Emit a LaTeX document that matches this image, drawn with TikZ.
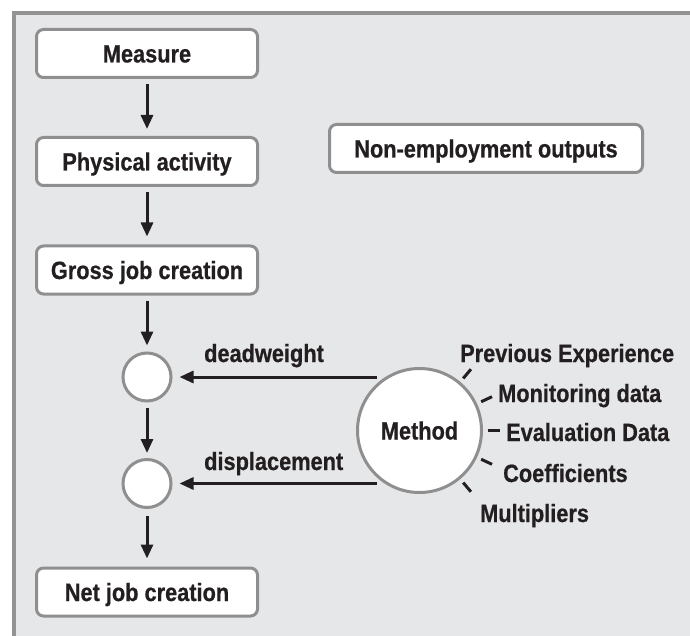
\documentclass[tikz,border=0pt]{standalone}
\usepackage{fontspec}
\setmainfont{Liberation Sans}[FakeStretch=0.87, BoldFeatures={FakeBold=0.6}]
\usetikzlibrary{arrows.meta,calc}
\definecolor{bgc}{HTML}{E6E7E9}
\definecolor{framec}{HTML}{939393}
\definecolor{boxc}{HTML}{8F8F8F}
\definecolor{inkc}{HTML}{231F20}
\begin{document}
\begin{tikzpicture}[x=1pt,y=-1pt,
 font=\fontsize{25}{30}\selectfont\bfseries, text=inkc,
 box/.style={draw=boxc, fill=white, line width=3pt, rounded corners=7pt, minimum width=221pt, minimum height=48pt, inner sep=0pt, text height=18pt, text depth=0pt},
 junc/.style={circle, draw=boxc, fill=white, line width=3pt, minimum size=48pt, inner sep=0pt},
 bigcirc/.style={circle, draw=boxc, fill=white, line width=3pt, minimum size=124pt, inner sep=0pt, text height=18pt, text depth=0pt},
 arr/.style={draw=inkc, line width=3pt, -{Triangle[length=14pt,width=12pt]}},
 tickline/.style={draw=inkc, line width=3pt},
 lbl/.style={anchor=base west, inner sep=0pt}
]
\useasboundingbox (0,0) rectangle (690,636);
\begin{scope}
\clip (0,0) rectangle (690,636);
\path[fill=bgc, draw=framec, line width=4pt] (13.5,13) rectangle (700,650);
\end{scope}

\node[box] (measure) at (147,53.5) {Measure};
\node[box] (phys) at (147,161.5) {Physical activity};
\node[box] (gross) at (147,270) {Gross job creation};
\node[box, minimum width=313pt] (nonemp) at (486,148.5) {Non-employment outputs};
\node[box] (net) at (147,592) {Net job creation};
\node[junc] (dw) at (147,377) {};
\node[junc] (dp) at (147,483.5) {};
\node[bigcirc] (method) at (419.5,430.5) {Method};

\draw[arr, shorten <=5pt, shorten >=7pt] (measure) -- (phys);
\draw[arr, shorten <=5pt, shorten >=8pt] (phys) -- (gross);
\draw[arr, shorten <=5pt, shorten >=6pt] (gross) -- (dw);
\draw[arr, shorten <=5pt, shorten >=5pt] (dw) -- (dp);
\draw[arr, shorten <=7pt, shorten >=8pt] (dp) -- (net);

\coordinate (dwsrc) at (377,377);
\coordinate (dpsrc) at (377,483.5);
\draw[arr, shorten >=7pt] (dwsrc) -- (dw);
\draw[arr, shorten >=7pt] (dpsrc) -- (dp);

\node[lbl] (dwl) at (204,362) {deadweight};
\node[lbl] (dpl) at (204,470) {displacement};
\node[lbl] (l1) at (460,362) {Previous Experience};
\node[lbl] (l2) at (498,402) {Monitoring data};
\node[lbl] (l3) at (506,441) {Evaluation Data};
\node[lbl] (l4) at (503,482) {Coefficients};
\node[lbl] (l5) at (480,522) {Multipliers};

\foreach \a in {50,25,0,-25,-50}
  \draw[tickline] ([shift={(\a:68pt)}]method.center) -- ([shift={(\a:80pt)}]method.center);
\end{tikzpicture}
\end{document}
